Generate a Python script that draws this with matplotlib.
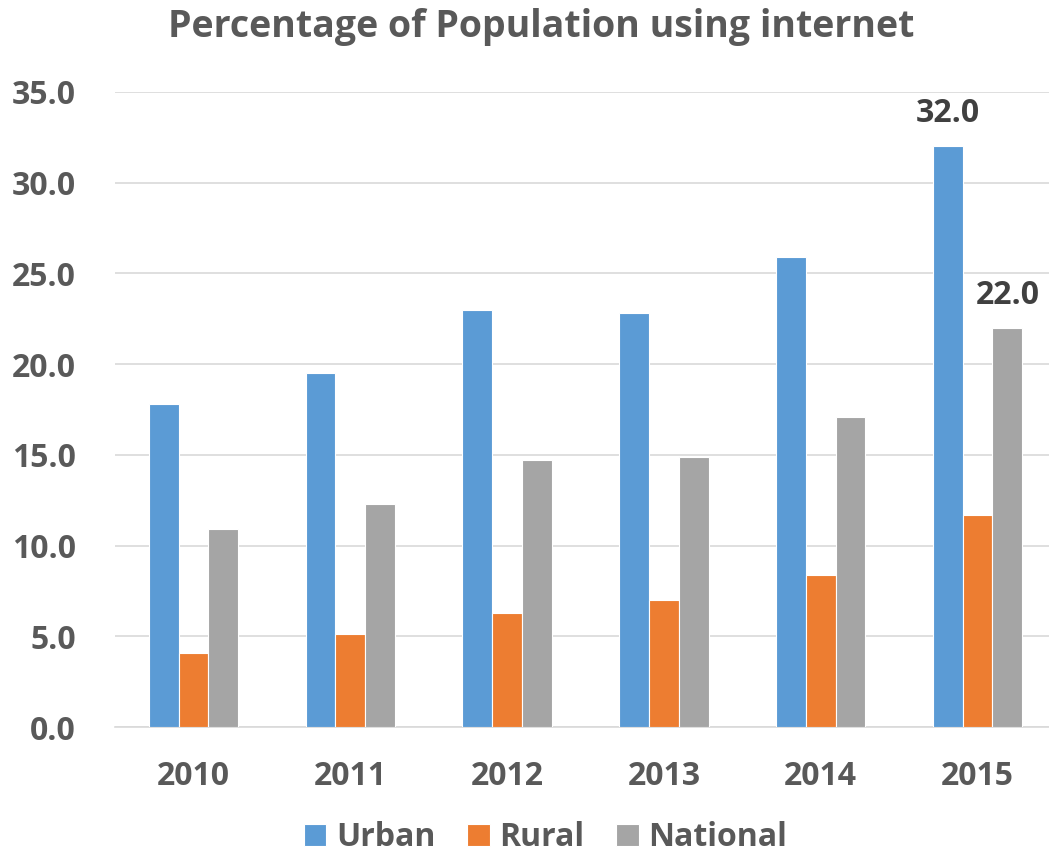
import numpy as np
import matplotlib.pyplot as plt

years = ['2010', '2011', '2012', '2013', '2014', '2015']
urban = [17.8, 19.5, 23.0, 22.8, 25.9, 32.0]
rural = [4.1, 5.1, 6.3, 7.0, 8.4, 11.7]
national = [10.9, 12.3, 14.7, 14.9, 17.1, 22.0]

plt.rcParams['font.family'] = ['Open Sans', 'DejaVu Sans']
txt = '#595959'

fig = plt.figure(figsize=(10.49, 8.58), dpi=100)
ax = fig.add_axes([115/1049, 131/858, 941/1049, 635/858])

x = np.arange(len(years))
w = 0.19
ax.bar(x - w, urban, w, color='#5B9BD5', label='Urban', edgecolor='white', linewidth=0.8, zorder=3)
ax.bar(x, rural, w, color='#ED7D31', label='Rural', edgecolor='white', linewidth=0.8, zorder=3)
ax.bar(x + w, national, w, color='#A5A5A5', label='National', edgecolor='white', linewidth=0.8, zorder=3)

ax.text(x[-1] - w, urban[-1] + 0.9, '%.1f' % urban[-1], ha='center', va='bottom',
        fontsize=23, fontweight='bold', color='#404040')
ax.text(x[-1] + w, national[-1] + 0.9, '%.1f' % national[-1], ha='center', va='bottom',
        fontsize=23, fontweight='bold', color='#404040')

ax.set_xlim(-0.5, 5.5)
ax.set_ylim(0, 35)
ax.set_yticks(np.arange(0, 36, 5))
ax.set_yticklabels(['%.1f' % v for v in np.arange(0, 36, 5)])
ax.set_xticks(x)
ax.set_xticklabels(years)
ax.grid(axis='y', color='#D9D9D9', linewidth=1.2, zorder=0)
for s in ['top', 'right', 'left']:
    ax.spines[s].set_visible(False)
ax.spines['bottom'].set_color('#D9D9D9')
ax.spines['bottom'].set_linewidth(1.2)
ax.tick_params(length=0, labelsize=23, labelcolor=txt)
ax.tick_params(axis='x', pad=24)
ax.tick_params(axis='y', pad=28)
for lab in ax.get_xticklabels() + ax.get_yticklabels():
    lab.set_fontweight('bold')

fig.text(0.516, 0.968, 'Percentage of Population using internet', ha='center', va='center',
         fontsize=27, fontweight='bold', color=txt)

fig.legend(loc='center', bbox_to_anchor=(0.52, 0.024), ncol=3, frameon=False,
           prop={'size': 23, 'weight': 'bold'}, labelcolor=txt,
           handlelength=0.7, handleheight=0.7, handletextpad=0.3, columnspacing=1.0,
           borderpad=0.1)

fig.savefig('out.png', dpi=100)
